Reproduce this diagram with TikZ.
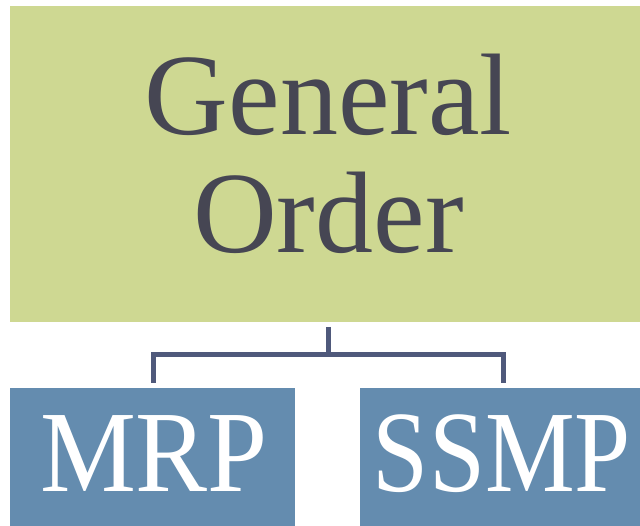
\documentclass[tikz,border=0pt]{standalone}
\usepackage{fontspec}
\usepackage{graphicx}
\setmainfont{Liberation Serif}
\definecolor{topgreen}{HTML}{CED892}
\definecolor{boxblue}{HTML}{648CAF}
\definecolor{darktext}{HTML}{464653}
\definecolor{linkcol}{HTML}{4F597B}
\tikzset{
  x=1pt, y=-1pt,
  box/.style={draw=none, inner sep=0pt, anchor=north west},
  bigtext/.style={inner sep=0pt, anchor=base, font=\fontsize{116}{118}\selectfont},
  link/.style={draw=linkcol, line width=5pt, line join=miter}
}
\begin{document}
\begin{tikzpicture}
\useasboundingbox[fill=white] (0,0) rectangle (640,526);
% boxes
\node[box, fill=topgreen, minimum width=630pt, minimum height=316pt] (top) at (10,6) {};
\node[box, fill=boxblue, minimum width=285pt, minimum height=140pt] (mrpbox) at (10,388) {};
\node[box, fill=boxblue, minimum width=280pt, minimum height=140pt] (ssmpbox) at (360,388) {};
% texts
\node[bigtext, text=darktext] (gen) at (328.5,135) {General};
\node[bigtext, text=darktext] (ord) at (328.5,253) {Order};
\node[bigtext, text=white] (mrp) at (154,491) {\scalebox{0.93}[1]{MRP}};
\node[bigtext, text=white] (ssmp) at (502,491) {\scalebox{0.87}[1]{SSMP}};
% connector
\coordinate (c0) at (328,327);
\coordinate (j) at (328,355);
\coordinate (l) at (153,383);
\coordinate (r) at (503,383);
\draw[link] (c0) -- (j);
\draw[link] (l) |- (j) -| (r);
\end{tikzpicture}
\end{document}
